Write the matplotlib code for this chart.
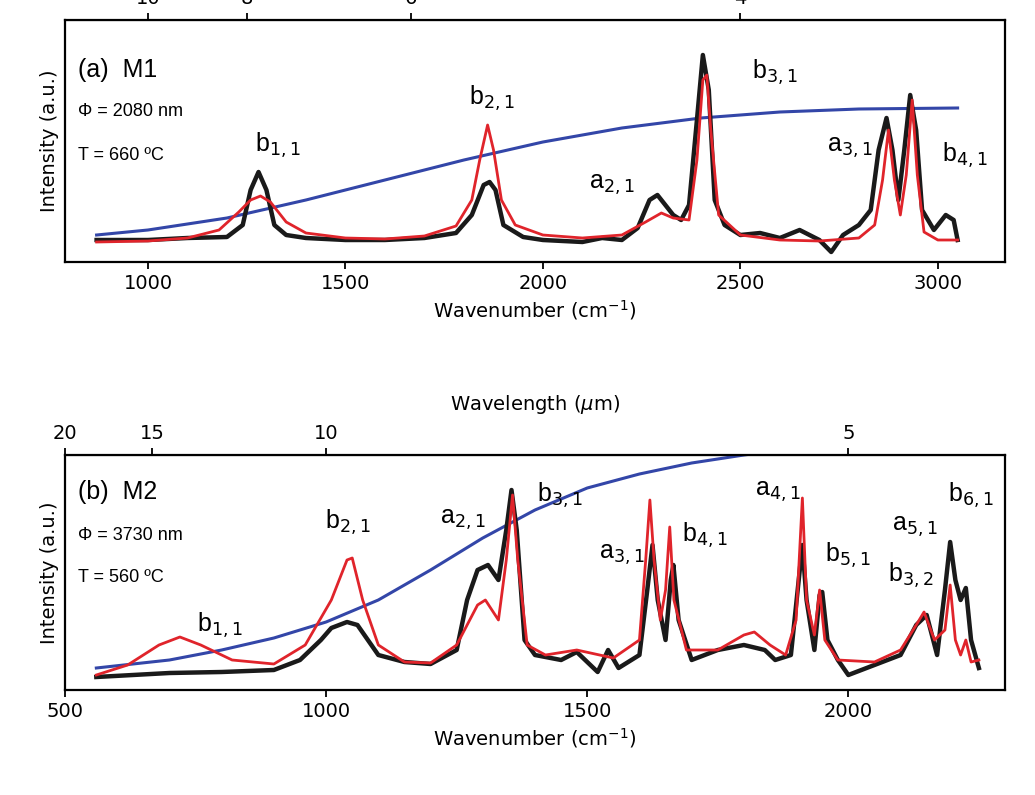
import matplotlib
matplotlib.use("Agg")
import matplotlib.pyplot as plt
import numpy as np

# ---- Panel (a) data (wavenumber, intensity a.u.) ----
a_black_x = [870,1000,1100,1200,1240,1260,1280,1300,1320,1350,1400,1500,1600,1700,1780,1820,1850,1865,1880,1900,1950,2000,2100,2150,2200,2240,2270,2290,2310,2330,2350,2370,2390,2405,2420,2435,2460,2500,2550,2600,2650,2700,2730,2760,2800,2830,2850,2870,2885,2900,2915,2930,2945,2960,2990,3020,3040,3050]
a_black_y = [240,240,238,237,225,190,172,190,225,235,238,240,240,238,233,215,185,182,190,225,237,240,242,238,240,228,200,195,205,215,220,205,120,55,90,200,225,235,233,238,230,240,252,235,225,210,150,118,150,200,150,95,130,210,230,215,220,240]
a_red_x = [870,1000,1100,1180,1230,1260,1285,1310,1350,1400,1500,1600,1700,1780,1820,1840,1860,1875,1895,1930,2000,2100,2200,2260,2300,2330,2370,2390,2405,2415,2425,2445,2500,2600,2700,2800,2840,2860,2875,2890,2905,2920,2935,2948,2965,3000,3050]
a_red_y = [242,241,238,230,212,200,196,202,222,233,238,239,236,226,200,160,125,150,200,225,235,238,235,222,213,218,220,160,80,75,130,215,235,240,241,238,225,180,130,180,215,175,100,175,232,240,240]
a_blue_x = [870,1000,1200,1400,1600,1800,2000,2200,2400,2600,2800,3050]
a_blue_y = [235,230,218,200,180,160,142,128,118,112,109,108]

# ---- Panel (b) data ----
b_black_x = [560,700,800,900,950,990,1010,1040,1060,1080,1100,1150,1200,1250,1270,1290,1310,1330,1345,1355,1365,1380,1400,1450,1480,1500,1520,1540,1560,1600,1615,1625,1635,1650,1660,1665,1675,1700,1750,1800,1840,1860,1890,1905,1912,1920,1935,1945,1950,1960,1980,2000,2050,2100,2130,2150,2170,2185,2195,2205,2215,2225,2235,2250]
b_black_y = [677,673,672,670,660,640,628,622,625,640,655,662,664,650,600,570,565,580,530,490,530,640,655,660,652,662,672,650,668,655,590,545,600,640,580,565,620,660,650,645,650,660,655,580,545,600,650,595,592,640,660,675,665,655,625,615,655,590,542,580,600,588,640,668]
b_red_x = [560,620,680,720,760,820,900,960,1010,1040,1050,1070,1100,1150,1200,1250,1290,1305,1330,1345,1357,1367,1385,1420,1480,1550,1600,1612,1620,1628,1640,1650,1658,1666,1690,1750,1800,1820,1850,1880,1900,1912,1920,1935,1945,1955,1980,2050,2100,2130,2145,2165,2185,2195,2205,2215,2225,2235,2250]
b_red_y = [675,665,645,637,645,660,664,645,600,560,558,600,645,662,663,645,605,600,620,560,495,560,645,655,650,658,640,560,500,560,620,590,527,600,650,650,635,632,645,655,620,498,600,635,590,640,660,662,650,625,612,640,630,585,640,655,640,662,660]
b_blue_x = [560,700,800,900,1000,1100,1200,1300,1400,1500,1600,1700,1800,1900,2000]
b_blue_y = [668,660,650,638,622,600,570,538,510,488,474,463,455,448,443]

a_top_ticks = [10, 8, 6, 4]
b_top_ticks = [20, 15, 10, 5]

a_labels = [(1329,145,"b$_{1,1}$"),(1871,98,"b$_{2,1}$"),(2175,185,"a$_{2,1}$"),(2587,72,"b$_{3,1}$"),(2777,148,"a$_{3,1}$"),(3068,155,"b$_{4,1}$")]
b_labels = [(797,625,"b$_{1,1}$"),(1042,522,"b$_{2,1}$"),(1261,520,"a$_{2,1}$"),(1448,495,"b$_{3,1}$"),(1567,555,"a$_{3,1}$"),(1726,535,"b$_{4,1}$"),(1866,492,"a$_{4,1}$"),(2000,555,"b$_{5,1}$"),(2119,575,"b$_{3,2}$"),(2128,527,"a$_{5,1}$"),(2234,495,"b$_{6,1}$")]

fig = plt.figure(figsize=(10.35, 7.95), dpi=100)
axa = fig.add_axes([65/1035, (795-262)/795, 940/1035, 242/795])
axb = fig.add_axes([65/1035, (795-690)/795, 940/1035, 235/795])

def panel(ax, bx, by, rx, ry, lx, ly, base, xlim, ylabel_top, top, labels, name, phi, temp, xtl):
    inv = lambda v: base - np.asarray(v, float)
    ax.plot(lx, inv(ly), color="#3346a8", lw=2.2)
    ax.plot(bx, inv(by), color="#1a1a1a", lw=3.2)
    ax.plot(rx, inv(ry), color="#e0242b", lw=2.0)
    ax.set_xlim(*xlim)
    ax.set_yticks([])
    ax.set_ylabel("Intensity (a.u.)", fontsize=14)
    ax.set_xlabel("Wavenumber (cm$^{-1}$)", fontsize=14)
    ax.tick_params(axis="x", labelsize=14, width=1.3, length=5)
    ax.set_xticks(xtl)
    for s in ax.spines.values():
        s.set_linewidth(1.6)
    for x, y, t in labels:
        ax.text(x, base - y, t, fontsize=18, ha="center", va="center", family="Liberation Sans")
    ax.text(name[0], base - name[1], name[2], fontsize=18, ha="left", va="center", family="Liberation Sans")
    ax.text(name[0], base - phi[0], phi[1], fontsize=13, ha="left", va="center", family="Liberation Sans")
    ax.text(name[0], base - temp[0], temp[1], fontsize=13, ha="left", va="center", family="Liberation Sans")
    sec = ax.secondary_xaxis("top", functions=(lambda k: 10000/np.maximum(k, 1e-9), lambda w: 10000/np.maximum(w, 1e-9)))
    sec.set_xticks(top)
    sec.set_xticklabels([str(t) for t in top])
    sec.tick_params(labelsize=14, width=1.3, length=5)
    if ylabel_top:
        sec.set_xlabel("Wavelength ($\\mu$m)", fontsize=14, labelpad=10)

panel(axa, a_black_x, a_black_y, a_red_x, a_red_y, a_blue_x, a_blue_y, 262,
      (790, 3170), False, a_top_ticks, a_labels, (823, 70, "(a)  M1"),
      (112, "Φ = 2080 nm"), (155, "T = 660 ºC"), [1000, 1500, 2000, 2500, 3000])
axa.set_ylim(0, 242)
panel(axb, b_black_x, b_black_y, b_red_x, b_red_y, b_blue_x, b_blue_y, 690,
      (500, 2300), True, b_top_ticks, b_labels, (525, 492, "(b)  M2"),
      (535, "Φ = 3730 nm"), (578, "T = 560 ºC"), [500, 1000, 1500, 2000])
axb.set_ylim(0, 235)

fig.savefig("out.png", dpi=100)
